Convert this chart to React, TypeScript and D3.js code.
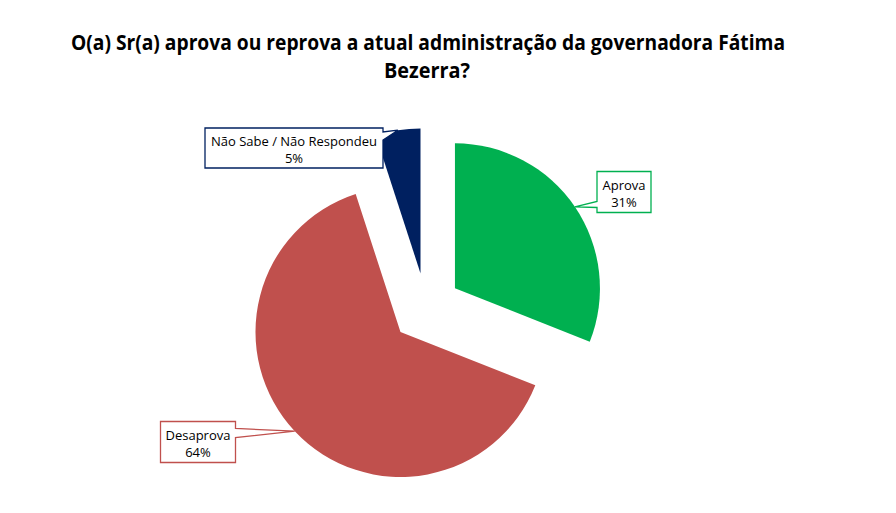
import React, { useEffect, useRef } from 'react';
import * as d3 from 'd3';

const categories = ['Aprova', 'Desaprova', 'Não Sabe / Não Respondeu'];
const values = [31, 64, 5];
const colors = ['#00B050', '#C0504D', '#002060'];
const titleLines = ['O(a) Sr(a) aprova ou reprova a atual administração da governadora Fátima', 'Bezerra?'];

export default function App() {
  const svgRef = useRef<SVGSVGElement>(null);

  useEffect(() => {
    const w = 880;
    const h = 497;
    const svg = d3.select(svgRef.current).attr('width', w).attr('height', h);
    svg.selectAll('*').remove();

    // title (narrow bold face squeezed to match the original width)
    const title = svg.append('g').attr('font-family', '"Open Sans", sans-serif').attr('font-weight', 'bold').attr('font-size', 21);
    title
      .append('text')
      .attr('x', 420)
      .attr('y', 42)
      .attr('text-anchor', 'middle')
      .attr('textLength', 714)
      .attr('lengthAdjust', 'spacingAndGlyphs')
      .text(titleLines[0]);
    title
      .append('text')
      .attr('x', 419)
      .attr('y', 70)
      .attr('text-anchor', 'middle')
      .attr('textLength', 86)
      .attr('lengthAdjust', 'spacingAndGlyphs')
      .text(titleLines[1]);

    const cx = 418;
    const cy = 300;
    const r = 145;
    const explode = 35;

    const pie = d3.pie<number>().sort(null).value((d) => d);
    const arcs = pie(values);
    const arc = d3.arc<d3.PieArcDatum<number>>().innerRadius(0).outerRadius(r);
    const rim = d3.arc<d3.PieArcDatum<number>>().innerRadius(r).outerRadius(r);

    const g = svg.append('g').attr('transform', `translate(${cx},${cy})`);

    const offset = (d: d3.PieArcDatum<number>) => {
      const a = (d.startAngle + d.endAngle) / 2;
      return [explode * Math.sin(a), -explode * Math.cos(a)];
    };

    g.selectAll('path.slice')
      .data(arcs)
      .join('path')
      .attr('class', 'slice')
      .attr('d', arc)
      .attr('fill', (d, i) => colors[i])
      .attr('transform', (d) => {
        const [dx, dy] = offset(d);
        return `translate(${dx},${dy})`;
      });

    // callout labels: box center relative to pie center, size, tail side and base
    const boxes = [
      { bx: 198, by: -116, bw: 54, bh: 41, side: 'left', a: 30, b: 36 },
      { bx: -228, by: 134, bw: 75, bh: 41, side: 'right', a: 7, b: 16 },
      { bx: -132, by: -160, bw: 178, bh: 40, side: 'right', a: 4, b: 12 },
    ];

    const labels = svg.append('g').attr('transform', `translate(${cx},${cy})`);
    arcs.forEach((d, i) => {
      const bx = boxes[i];
      const [dx, dy] = offset(d);
      const c = rim.centroid(d);
      const tx = c[0] + dx;
      const ty = c[1] + dy;
      const x0 = bx.bx - bx.bw / 2;
      const x1 = bx.bx + bx.bw / 2;
      const y0 = bx.by - bx.bh / 2;
      const y1 = bx.by + bx.bh / 2;
      let p: string;
      if (bx.side === 'right') {
        p = `M${x0},${y0}H${x1}V${y0 + bx.a}L${tx},${ty}L${x1},${y0 + bx.b}V${y1}H${x0}Z`;
      } else {
        p = `M${x0},${y0}H${x1}V${y1}H${x0}V${y0 + bx.b}L${tx},${ty}L${x0},${y0 + bx.a}Z`;
      }
      labels.append('path').attr('d', p).attr('fill', '#fff').attr('stroke', colors[i]).attr('stroke-width', 1.3);
      const t = labels
        .append('text')
        .attr('text-anchor', 'middle')
        .attr('font-family', '"Open Sans", sans-serif')
        .attr('font-size', 13)
        .attr('fill', '#000');
      t.append('tspan').attr('x', bx.bx).attr('y', bx.by - 2).text(categories[i]);
      t.append('tspan').attr('x', bx.bx).attr('y', bx.by + 15).text(`${values[i]}%`);
    });
  }, []);

  return (
    <div>
      <svg ref={svgRef}></svg>
    </div>
  );
}
